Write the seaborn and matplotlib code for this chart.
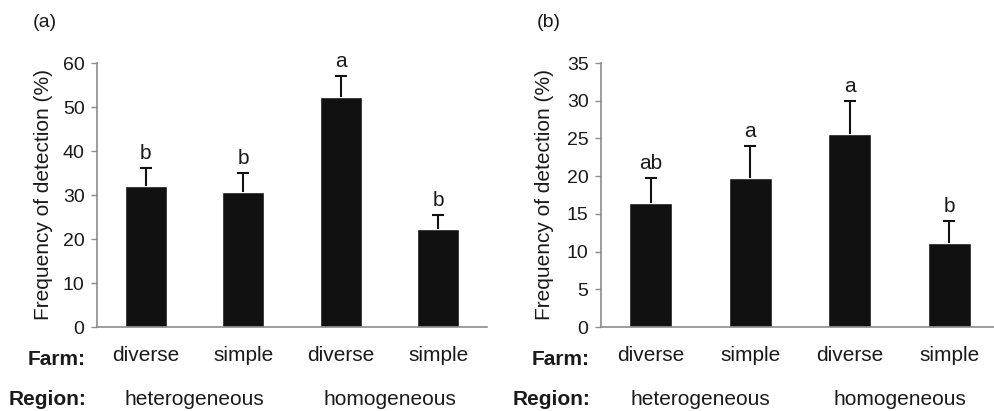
import numpy as np
import pandas as pd
import matplotlib
matplotlib.use("Agg")
import matplotlib.pyplot as plt
import seaborn as sns

# Data
farm = ["diverse", "simple", "diverse", "simple"]
region = ["heterogeneous", "heterogeneous", "homogeneous", "homogeneous"]
groups = ["het-div", "het-sim", "hom-div", "hom-sim"]

freq_a = [32.0, 30.6, 52.2, 22.2]
err_a = [4.1, 4.4, 4.8, 3.3]
letters_a = ["b", "b", "a", "b"]

freq_b = [16.5, 19.8, 25.6, 11.1]
err_b = [3.2, 4.2, 4.4, 2.9]
letters_b = ["ab", "a", "a", "b"]

sns.set_style("white")
plt.rcParams["font.family"] = ["Liberation Sans", "DejaVu Sans"]

W, H = 994, 411
fig = plt.figure(figsize=(W / 100, H / 100), dpi=100)

SPINE = "#8c8c8c"
TXT = "#1a1a1a"


def draw_panel(left_px, width_px, freq, err, letters, ymax, ystep, tag, tag_x):
    ax = fig.add_axes([left_px / W, 1 - 327 / H, width_px / W, (327 - 63) / H])
    df = pd.DataFrame({"group": groups, "freq": freq})
    sns.barplot(data=df, x="group", y="freq", color="#111111", saturation=1,
                width=0.43, errorbar=None, ax=ax)

    # Upper error bars only
    eb = ax.errorbar(range(len(freq)), freq, yerr=[np.zeros(len(err)), err], fmt="none",
                     ecolor="#111111", elinewidth=1.5, capsize=4, capthick=1.5)
    eb[1][0].set_visible(False)

    for i, (f, e, l) in enumerate(zip(freq, err, letters)):
        ax.annotate(l, (i, f + e), xytext=(0, 6.5), textcoords="offset points",
                    ha="center", va="baseline", fontsize=15, color=TXT)

    ax.set_xlim(-0.5, 3.5)
    ax.set_ylim(0, ymax)
    ax.set_yticks(np.arange(0, ymax + 1, ystep))
    ax.set_xticks(range(4))
    ax.set_xticklabels(farm)
    ax.set_xticks([-0.5, 0.5, 1.5, 2.5, 3.5], minor=True)
    ax.tick_params(axis="x", which="major", length=0, labelsize=15, pad=14, labelcolor=TXT)
    ax.tick_params(axis="x", which="minor", length=4, width=1, color=SPINE, direction="out")
    ax.tick_params(axis="y", length=4, width=1, color=SPINE, direction="out",
                   labelsize=14, pad=5, labelcolor=TXT, left=True)
    ax.set_xlabel("")
    ax.set_ylabel("Frequency of detection (%)", fontsize=15, color=TXT)
    ax.yaxis.set_label_coords((tag_x - left_px) / width_px, 0.5)
    for s in ["top", "right"]:
        ax.spines[s].set_visible(False)
    for s in ["left", "bottom"]:
        ax.spines[s].set_color(SPINE)
        ax.spines[s].set_linewidth(1.2)

    # Row labels under the axis
    fig.text((left_px - 11) / W, 1 - 365 / H, "Farm:", ha="right", va="baseline",
             fontsize=15, fontweight="bold", color=TXT)
    fig.text((left_px - 11) / W, 1 - 405 / H, "Region:", ha="right", va="baseline",
             fontsize=15, fontweight="bold", color=TXT)
    for k, name in enumerate(["heterogeneous", "homogeneous"]):
        xd = ax.transData.transform((0.5 + 2 * k, 0))[0]
        fig.text(xd / W, 1 - 405 / H, name, ha="center", va="baseline",
                 fontsize=15, color=TXT)

    fig.text((left_px - 64) / W, 1 - 27 / H, tag, ha="left", va="baseline",
             fontsize=14, color=TXT)
    return ax


draw_panel(97, 390, freq_a, err_a, letters_a, 60, 10, "(a)", 53)
draw_panel(601, 398, freq_b, err_b, letters_b, 35, 5, "(b)", 554)

fig.savefig("out.png", dpi=100)
